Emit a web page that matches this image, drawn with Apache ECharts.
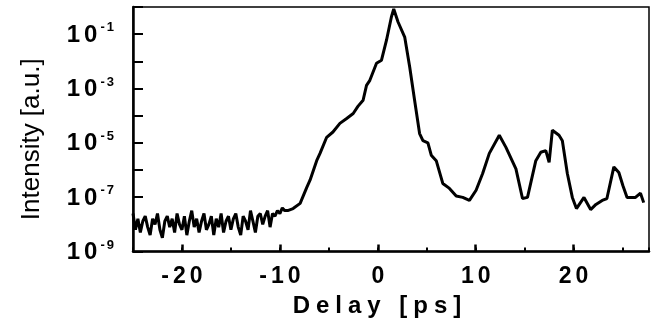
<!DOCTYPE html>
<html><head><meta charset="utf-8">
<script src="https://cdn.jsdelivr.net/npm/echarts@6/dist/echarts.min.js"></script>
<style>html,body{margin:0;padding:0;background:#fff}#c{width:652px;height:327px}</style>
</head><body><div id="c"></div>
<script>
// Delay in ps
const delays = [
 -25, -24.75, -24.5, -24.25, -24, -23.75, -23.5, -23.25, -23, -22.75,
 -22.5, -22.25, -22, -21.75, -21.5, -21.25, -21, -20.75, -20.5, -20.25,
 -20, -19.75, -19.5, -19.25, -19, -18.75, -18.5, -18.25, -18, -17.75,
 -17.5, -17.25, -17, -16.75, -16.5, -16.25, -16, -15.75, -15.5, -15.25,
 -15, -14.75, -14.5, -14.25, -14, -13.75, -13.5, -13.25, -13, -12.75,
 -12.5, -12.25, -12, -11.75, -11.5, -11.25, -11, -10.75, -10.5, -10.25,
 -10, -9.75, -9.5,
 -9.2, -8.65, -7.93, -7.25, -6.92, -6.24, -5.9, -5.22, -4.58, -3.87,
 -3.18, -2.51, -2.03, -1.5, -1.15, -0.81, -0.13, 0.38, 0.89, 1.39,
 1.63, 2.07, 2.75, 3.26, 3.76, 4.27, 4.61, 5.12, 5.46, 5.97,
 6.64, 7.32, 8.01, 8.68, 9.36, 10.04, 10.71, 11.39, 12.41, 13.09,
 14.11, 14.78, 15.29, 16.14, 16.65, 17.16, 17.5, 17.83, 18.51, 18.85,
 19.36, 19.87, 20.29, 21.06, 21.74, 22.28, 22.92, 23.4, 24.11, 24.62,
 25.03, 25.46, 26.32, 26.83, 27.16
];
// Intensity in a.u.
const intensities = [
 2.5e-8, 6.3e-9, 1.6e-8, 5.0e-9, 1.3e-8, 2.0e-8, 7.9e-9, 4.0e-9, 1.6e-8, 1.0e-8,
 2.5e-8, 6.3e-9, 3.2e-9, 1.3e-8, 2.0e-8, 7.9e-9, 1.6e-8, 5.0e-9, 2.5e-8, 1.0e-8,
 6.3e-9, 2.0e-8, 4.0e-9, 1.3e-8, 3.2e-8, 7.9e-9, 1.6e-8, 5.0e-9, 1.3e-8, 2.5e-8,
 6.3e-9, 1.0e-8, 2.0e-8, 4.0e-9, 1.6e-8, 7.9e-9, 2.5e-8, 5.0e-9, 1.3e-8, 2.0e-8,
 6.3e-9, 1.6e-8, 2.5e-8, 7.9e-9, 4.0e-9, 2.0e-8, 1.3e-8, 6.3e-9, 3.2e-8, 1.3e-8,
 5.0e-9, 2.0e-8, 2.5e-8, 1.0e-8, 2.0e-8, 3.2e-8, 7.9e-9, 2.5e-8, 2.0e-8, 3.2e-8,
 2.5e-8, 4.0e-8, 3.2e-8,
 3.2e-8, 3.8e-8, 5.9e-8, 2.3e-7, 4.2e-7, 2.2e-6, 4.1e-6, 1.6e-5, 2.5e-5, 5.2e-5,
 7.9e-5, 1.2e-4, 2.2e-4, 3.7e-4, 1.3e-3, 2.0e-3, 8.5e-3, 1.1e-2, 6.0e-2, 0.43,
 0.85, 0.28, 7.8e-2, 6.2e-3, 3.7e-4, 2.2e-5, 1.2e-5, 1.0e-5, 3.5e-6, 2.2e-6,
 3.2e-7, 2.1e-7, 1.1e-7, 9.8e-8, 7.6e-8, 1.8e-7, 7.4e-7, 4.1e-6, 1.9e-5, 6.8e-6,
 1.1e-6, 8.9e-8, 9.8e-8, 2.2e-6, 4.5e-6, 5.2e-6, 1.9e-6, 2.9e-5, 1.9e-5, 1.2e-5,
 7.4e-7, 9.8e-8, 3.8e-8, 9.8e-8, 3.5e-8, 5.4e-8, 7.6e-8, 8.9e-8, 1.3e-6, 8.1e-7,
 2.7e-7, 9.8e-8, 9.8e-8, 1.4e-7, 6.3e-8
];
const xTickLabels = [-20, -10, 0, 10, 20];
const yTickExps = [-1, -3, -5, -7, -9];
const xTitle = 'Delay [ps]';
const yTitle = 'Intensity [a.u.]';

function spaced(str, style) {
  return str.split('').map(c => '{' + style + '|' + c + '}').join('');
}
const FONT = 'Liberation Sans, Arial, sans-serif';

const chart = echarts.init(document.getElementById('c'), null, {renderer: 'canvas'});
chart.setOption({
  animation: false,
  backgroundColor: '#fff',
  grid: {left: 133, right: 1.5, top: 7, bottom: 75.5, show: true, borderColor: '#000', borderWidth: 1.5, backgroundColor: 'transparent'},
  xAxis: [{
    type: 'value', min: -25, max: 27.7, interval: 5,
    splitLine: {show: false},
    axisLine: {show: true, onZero: false, lineStyle: {color: '#000', width: 2.5}},
    axisTick: {show: true, inside: true, length: 4, lineStyle: {color: '#000', width: 2}},
    axisLabel: {
      margin: 14, color: '#000',
      formatter: v => xTickLabels.includes(v) ? spaced(String(v), 'd') : '',
      rich: {d: {fontFamily: FONT, fontWeight: 'bold', fontSize: 23, color: '#000', padding: [0, 2, 0, 2]}}
    },
    name: spaced(xTitle, 't'), nameLocation: 'middle', nameGap: 43,
    nameTextStyle: {padding: [0, 28, 0, 0], rich: {t: {fontFamily: FONT, fontWeight: 'bold', fontSize: 24, color: '#000', padding: [0, 3, 0, 3]}}}
  }, {
    type: 'value', min: -25, max: 27.7, position: 'bottom',
    splitLine: {show: false},
    axisLine: {show: false, onZero: false},
    axisLabel: {show: false},
    axisTick: {show: true, inside: true, length: 7, customValues: xTickLabels, lineStyle: {color: '#000', width: 2.5}}
  }],
  yAxis: {
    type: 'log', logBase: 10, min: 1e-9, max: 1,
    splitLine: {show: false},
    axisLine: {show: true, onZero: false, lineStyle: {color: '#000', width: 2.5}},
    axisTick: {show: true, inside: true, length: 10, lineStyle: {color: '#000', width: 2},
      customValues: [1e-9, 1e-8, 1e-7, 1e-6, 1e-5, 1e-4, 1e-3, 1e-2, 1e-1, 1]},
    axisLabel: {
      margin: 18, color: '#000',
      customValues: yTickExps.map(e => Math.pow(10, e)),
      formatter: v => {
        const e = Math.round(Math.log10(v));
        if (!yTickExps.includes(e)) return '';
        return '{n|1}{n|0}{s|-}{s|' + (-e) + '}';
      },
      rich: {
        n: {fontFamily: FONT, fontWeight: 'bold', fontSize: 24, color: '#000', padding: [0, 2, 0, 2], lineHeight: 26, verticalAlign: 'bottom'},
        s: {fontFamily: FONT, fontWeight: 'bold', fontSize: 13, color: '#000', padding: [0, 1, 0, 1], lineHeight: 14, verticalAlign: 'top'}
      }
    },
    name: yTitle, nameLocation: 'middle', nameRotate: 90, nameGap: 88,
    nameTextStyle: {fontFamily: FONT, fontSize: 26, color: '#000', padding: [0, 20, 0, 0]}
  },
  series: [{
    type: 'line', xAxisIndex: 0, yAxisIndex: 0,
    showSymbol: false, symbol: 'none',
    lineStyle: {color: '#000', width: 3},
    data: delays.map((d, i) => [d, intensities[i]])
  }]
});
</script></body></html>
